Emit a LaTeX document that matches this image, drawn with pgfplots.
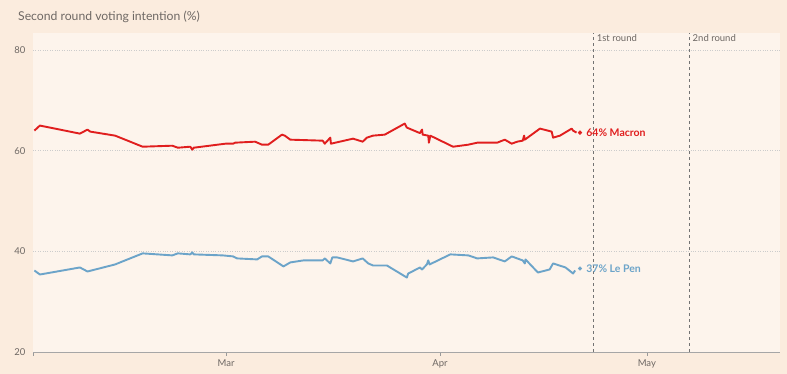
\documentclass[border=0pt]{standalone}
\usepackage{fontspec}
\setmainfont{Lato}
\usepackage{pgfplots}
\pgfplotsset{compat=1.18}
\definecolor{outerbg}{RGB}{251,236,222}
\definecolor{innerbg}{RGB}{253,244,236}
\definecolor{mred}{RGB}{224,30,30}
\definecolor{lblue}{RGB}{108,164,201}
\definecolor{txtgray}{RGB}{110,104,100}
\begin{document}
\begin{tikzpicture}[x=1pt,y=1pt]
\useasboundingbox (0,0) rectangle (787,374);
\fill[outerbg] (0,0) rectangle (787,374);
\node[anchor=base west, text=txtgray, font=\fontsize{12.2}{14}\selectfont, inner sep=0pt] at (18,353.5) {Second round voting intention (\%)};
\begin{axis}[at={(33pt,22pt)}, anchor=south west, scale only axis,
  width=747pt, height=319pt,
  xmin=0, xmax=108.3, ymin=20, ymax=83.4,
  axis background/.style={fill=innerbg},
  axis x line*=bottom, axis y line*=left,
  x axis line style={draw=black!35, -}, y axis line style={draw=none},
  xtick={0,28,59,89}, xticklabels={,Mar,Apr,May},
  ytick={20,40,60,80},
  tick align=outside, major tick length=4pt,
  x tick style={black!40}, y tick style={draw=none},
  ymajorgrids, grid style={line width=0.6pt, dash pattern=on 0.6pt off 1.8pt, black!20},
  tick label style={font=\fontsize{9.5}{10}\selectfont, text=txtgray},
  /pgf/number format/assume math mode=true,
  clip=false,
]
% election round lines
\addplot[black!55, line width=0.8pt, dash pattern=on 3pt off 3pt] coordinates {(81.3,20) (81.3,83.4)};
\addplot[black!55, line width=0.8pt, dash pattern=on 3pt off 3pt] coordinates {(95.2,20) (95.2,83.4)};
\node[anchor=north west, text=txtgray, font=\fontsize{9.5}{10}\selectfont, inner sep=1.5pt] at (axis cs:81.5,83.4) {1st round};
\node[anchor=north west, text=txtgray, font=\fontsize{9.5}{10}\selectfont, inner sep=1.5pt] at (axis cs:95.4,83.4) {2nd round};
% Macron
\addplot[mred, line width=1.9pt, line join=round] coordinates {
(0.2,64.0) (1.0,65.0) (6.8,63.4) (7.9,64.2) (8.3,63.8) (11.9,63.0) (15.9,60.8)
(20.2,61.0) (21.0,60.6) (22.8,60.8) (23.1,60.2) (23.3,60.6) (27.9,61.4) (29.0,61.4)
(29.3,61.6) (32.2,61.8) (33.2,61.2) (34.1,61.2) (36.1,63.2) (36.5,63.0) (37.3,62.2)
(42.0,62.0) (42.3,61.4) (43.1,62.6) (43.2,61.4) (46.4,62.4) (47.8,61.8) (48.4,62.6)
(49.3,63.0) (51.0,63.2) (53.9,65.4) (54.2,64.6) (56.1,63.5) (56.4,64.2) (56.5,63.2)
(57.3,63.0) (57.4,61.6) (57.6,63.0) (60.0,61.4) (60.9,60.8) (63.1,61.2) (64.4,61.6)
(67.3,61.6) (68.4,62.2) (69.4,61.4) (70.2,61.8) (71.0,62.0) (71.2,63.0) (71.3,62.2)
(72.5,63.4) (73.5,64.4) (75.2,63.8) (75.4,62.6) (76.4,63.0) (78.1,64.4) (78.3,64.0)
(78.8,63.6)
};
\addplot[only marks, mark=*, mark size=1.9pt, mred] coordinates {(79.3,63.6)};
\node[anchor=west, text=mred, font=\bfseries\fontsize{10.5}{11}\selectfont, inner sep=0pt] at (axis cs:80.2,63.6) {64\% Macron};
% Le Pen
\addplot[lblue, line width=1.9pt, line join=round] coordinates {
(0.2,36.2) (1.0,35.4) (6.8,36.8) (7.9,36.0) (11.9,37.4) (15.9,39.6) (20.2,39.2)
(21.0,39.6) (22.8,39.4) (23.1,39.8) (23.3,39.4) (27.5,39.2) (29.0,39.0) (29.6,38.6)
(32.5,38.4) (33.2,39.0) (34.1,39.0) (36.1,37.2) (36.3,37.0) (37.3,37.8) (39.2,38.2)
(42.0,38.2) (42.3,38.6) (43.1,37.6) (43.4,38.8) (44.1,38.8) (46.4,38.0) (47.8,38.6)
(48.6,37.6) (49.3,37.2) (51.3,37.2) (54.2,34.8) (54.4,35.6) (54.7,35.8) (56.1,36.8)
(56.4,36.4) (57.1,37.4) (57.3,38.2) (57.5,37.4) (60.5,39.4) (63.1,39.2) (64.4,38.6)
(66.7,38.8) (68.4,38.0) (69.4,39.0) (71.0,38.2) (71.3,37.6) (71.4,38.4) (73.2,35.8)
(74.9,36.4) (75.4,37.6) (77.2,36.8) (78.3,35.6) (78.6,36.2)
};
\addplot[only marks, mark=*, mark size=1.9pt, lblue] coordinates {(79.3,36.6)};
\node[anchor=west, text=lblue, font=\bfseries\fontsize{10.5}{11}\selectfont, inner sep=0pt] at (axis cs:80.2,36.6) {37\% Le Pen};
\end{axis}
\end{tikzpicture}
\end{document}
